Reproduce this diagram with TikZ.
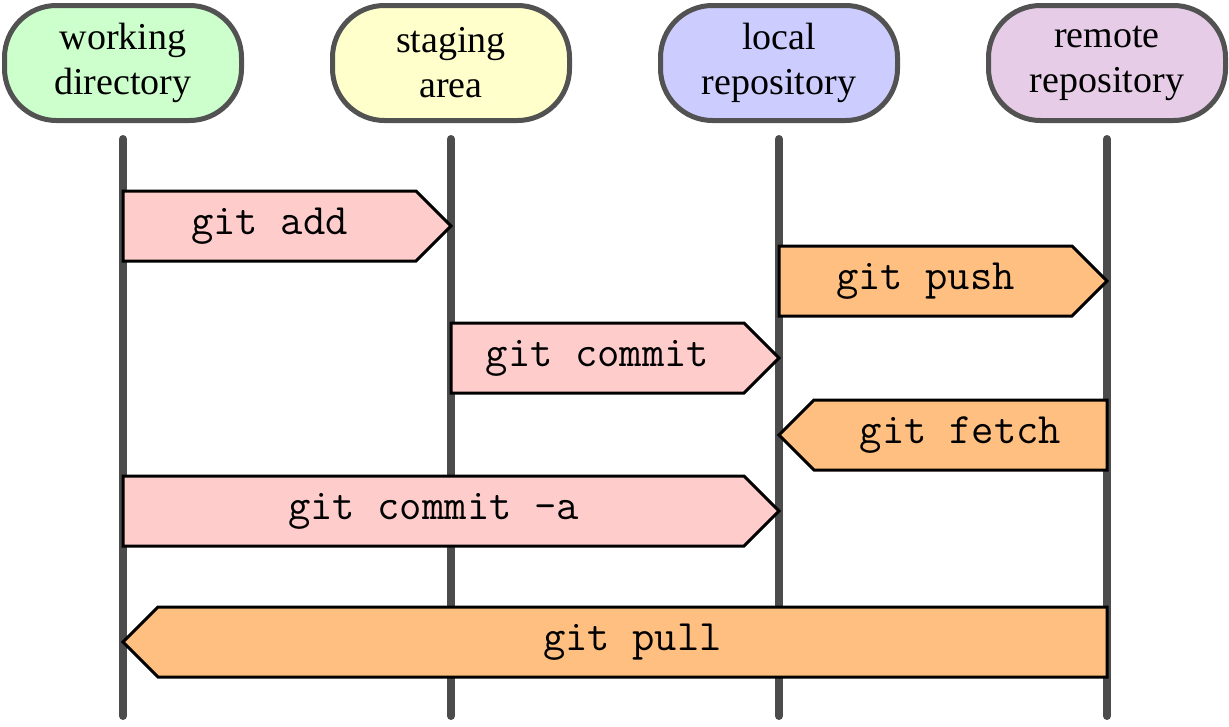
\documentclass[tikz,border=0pt]{standalone}
\usepackage{fontspec}
\setmainfont{Liberation Serif}
\begin{document}
\begin{tikzpicture}[x=1pt,y=-1pt,
  header/.style={draw=black!68, line width=5pt, rounded corners=52pt,
    minimum width=237pt, minimum height=115pt, inner sep=0pt, align=center,
    font=\fontsize{38}{45}\selectfont},
  lifeline/.style={draw=black!70, line width=8pt, line cap=round},
  msgpink/.style={fill={rgb,255:red,255;green,204;blue,204}, draw=black, line width=3pt, line join=miter},
  msgorange/.style={fill={rgb,255:red,255;green,191;blue,128}, draw=black, line width=3pt, line join=miter},
  msgtext/.style={font=\ttfamily\fontsize{43.4}{45}\selectfont, inner sep=0pt}
]
\useasboundingbox (0,0) rectangle (1229,726);
% headers
\node[header, fill={rgb,255:red,204;green,255;blue,204}] (wd) at (123,63) {working\\directory};
\node[header, fill={rgb,255:red,255;green,255;blue,204}] (sa) at (451,63) {staging\\area};
\node[header, fill={rgb,255:red,204;green,204;blue,255}] (lr) at (779,63) {local\\repository};
\node[header, fill={rgb,255:red,230;green,204;blue,230}] (rr) at (1107,63) {remote\\repository};
% lifelines
\foreach \n in {wd,sa,lr,rr}{
  \coordinate (\n top) at ([yshift=-16pt]\n.south);
  \coordinate (\n bot) at (\n |- 0,716);
  \draw[lifeline] (\n top) -- (\n bot);
}
% right-pointing message: #1 from, #2 to, #3 top y, style, text
\newcommand{\rmsg}[5]{%
  \path[#4] (#1 |- 0,#3) -- ([xshift=-35pt]#2 |- 0,#3) -- (#2 |- 0,#3+35) --
    ([xshift=-35pt]#2 |- 0,#3+70) -- (#1 |- 0,#3+70) -- cycle;
  \path (#1 |- 0,#3+35) -- ([xshift=-35pt]#2 |- 0,#3+35) node[msgtext, midway] {#5};
}
\newcommand{\lmsg}[5]{%
  \path[#4] (#1 |- 0,#3) -- ([xshift=35pt]#2 |- 0,#3) -- (#2 |- 0,#3+35) --
    ([xshift=35pt]#2 |- 0,#3+70) -- (#1 |- 0,#3+70) -- cycle;
  \path (#1 |- 0,#3+35) -- ([xshift=35pt]#2 |- 0,#3+35) node[msgtext, midway] {#5};
}
\rmsg{wd}{sa}{191}{msgpink}{git add}
\rmsg{lr}{rr}{246}{msgorange}{git push}
\rmsg{sa}{lr}{323}{msgpink}{git commit}
\lmsg{rr}{lr}{400}{msgorange}{git fetch}
\rmsg{wd}{lr}{476}{msgpink}{git commit -a}
\lmsg{rr}{wd}{607}{msgorange}{git pull}
\end{tikzpicture}
\end{document}
